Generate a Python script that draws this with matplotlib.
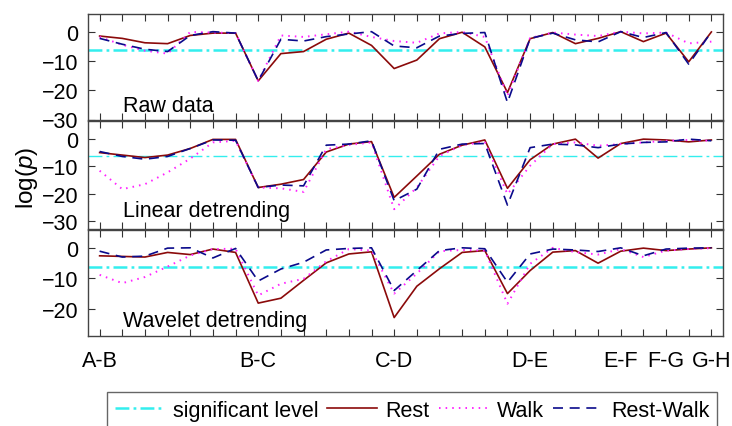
import numpy as np
import matplotlib
matplotlib.use('Agg')
import matplotlib.pyplot as plt

plt.rcParams['font.family'] = ['Liberation Sans', 'DejaVu Sans']
plt.rcParams['mathtext.fontset'] = 'custom'
plt.rcParams['mathtext.it'] = 'Liberation Sans:italic'
plt.rcParams['mathtext.rm'] = 'Liberation Sans'

# pair labels shown on x axis (index -> label), 28 comparisons in all
n_points = 28
tick_pos = [0, 7, 13, 19, 23, 25, 27]
tick_names = ['A-B', 'B-C', 'C-D', 'D-E', 'E-F', 'F-G', 'G-H']

sig_level = np.log(0.05 / 28)

panel_titles = ['Raw data', 'Linear detrending', 'Wavelet detrending']

# raw data
raw_rest = [-1.5, -2.3, -3.8, -4.1, -1.3, -0.5, -0.5, -16.8, -7.5, -6.8, -2.6, -0.5, -4.7, -12.6,
            -9.7, -2.4, -0.2, -5.2, -20.8, -2.4, -0.3, -4.1, -2.3, 0.0, -3.4, -0.5, -10.3, -0.1]
raw_walk = [-1.8, -4.5, -6.5, -7.5, -0.1, -0.3, -0.5, -16.8, -1.3, -1.8, -0.9, 0.0, -1.8, -3.2,
            -3.8, -0.6, -0.1, -1.8, -21.9, -2.2, -0.3, -1.0, -1.5, 0.0, -0.6, -0.3, -4.0, -3.4]
raw_rw = [-2.3, -4.3, -6.0, -6.8, -1.3, 0.0, -0.5, -16.8, -2.6, -3.2, -1.7, -0.8, 0.0, -4.9,
          -5.5, -1.5, -0.6, -0.3, -24.2, -2.3, -0.5, -2.8, -3.5, 0.0, -2.0, -0.3, -11.1, -0.1]

# linear detrending
lin_rest = [-5.0, -5.9, -6.8, -5.9, -3.5, -0.2, -0.2, -17.7, -16.5, -14.8, -4.8, -1.9, -1.0, -21.3,
            -13.5, -5.6, -2.3, -0.4, -18.0, -7.6, -1.9, -0.1, -7.0, -1.7, -0.1, -0.4, -1.1, -0.4]
lin_walk = [-11.6, -18.3, -16.5, -12.2, -7.2, -1.3, -0.7, -17.7, -18.0, -19.3, -3.8, -2.2, -1.3, -25.6,
            -17.7, -6.2, -2.3, -1.1, -20.1, -9.8, -1.9, -1.3, -2.5, -1.9, -1.3, -0.7, -0.4, -0.7]
lin_rw = [-4.6, -6.4, -7.4, -6.4, -3.5, -0.4, -0.5, -17.7, -16.8, -17.1, -2.3, -1.9, -0.7, -22.5,
          -18.3, -3.8, -1.9, -1.7, -24.1, -3.2, -1.9, -2.2, -3.2, -1.9, -1.3, -1.1, -0.1, -0.7]

# wavelet detrending
wav_rest = [-2.7, -2.9, -3.1, -1.6, -2.3, -0.5, -1.6, -18.1, -16.5, -10.7, -5.0, -2.1, -1.4, -22.8,
            -12.6, -6.9, -1.6, -1.0, -15.0, -7.5, -1.5, -1.0, -5.1, -1.2, -0.2, -1.0, -0.5, -0.1]
wav_walk = [-8.9, -11.6, -9.6, -6.2, -2.6, -0.5, -0.4, -15.6, -11.8, -10.2, -4.5, -0.5, -1.0, -15.0,
            -8.5, -1.2, -0.8, -1.0, -18.3, -5.3, -0.1, -1.5, -2.3, -0.5, -3.1, -1.0, -0.5, -0.2]
wav_rw = [-1.2, -3.1, -2.8, -0.2, -0.1, -3.4, -0.3, -10.9, -7.0, -4.8, -0.8, -0.3, -0.1, -14.0,
          -7.5, -1.0, -0.1, -0.4, -11.3, -2.1, -0.5, -0.8, -1.3, -0.1, -2.7, -0.5, -0.2, -0.1]

panels = [(raw_rest, raw_walk, raw_rw), (lin_rest, lin_walk, lin_rw), (wav_rest, wav_walk, wav_rw)]
ylims = [(-30, 6.2), (-32.8, 6.5), (-28.9, 5.7)]
yticks = [[0, -10, -20, -30], [0, -10, -20, -30], [0, -10, -20]]
title_y = [0.083, 0.123, 0.10]

W, H = 732, 427
fig = plt.figure(figsize=(W / 100, H / 100), dpi=100)

# panel boxes in pixels: (top, bottom)
boxes = [(14.5, 120.5), (122, 230), (231, 337.3)]
left_px, right_px = 88.3, 722.7
x = np.arange(n_points)
fs = 15.5

for k, (top, bot) in enumerate(boxes):
    ax = fig.add_axes([left_px / W, 1 - bot / H, (right_px - left_px) / W, (bot - top) / H])
    rest, walk, rw = panels[k]
    sig_lw = 1.0 if k == 1 else 1.8
    ax.axhline(sig_level, color='#33eeee', lw=sig_lw, dashes=(10 / sig_lw, 3 / sig_lw, 2 / sig_lw, 3 / sig_lw),
               label='significant level')
    ax.plot(x, rest, color='#8b0a0a', lw=1.2, label='Rest')
    ax.plot(x, walk, color='#ff22ff', lw=1.4, linestyle=(0, (0.8, 2.6)), label='Walk')
    ax.plot(x, rw, color='#0a0a8b', lw=1.2, dashes=(6, 4), label='Rest-Walk')

    ax.set_xlim(-0.5, 27.5)
    ax.set_ylim(*ylims[k])
    ax.set_yticks(yticks[k])
    ax.set_xticks(x)
    if k == 2:
        labels = [''] * n_points
        for p, name in zip(tick_pos, tick_names):
            labels[p] = name
        ax.set_xticklabels(labels)
    else:
        ax.set_xticklabels([])
    ax.tick_params(axis='x', direction='in', length=5, top=True, pad=10, labelsize=fs, color='#333333')
    ax.tick_params(axis='y', direction='in', length=5, right=True, pad=7, labelsize=fs, color='#333333')
    for s in ax.spines.values():
        s.set_color('#444444')
        s.set_linewidth(1.0)
    ax.text(0.055, title_y[k], panel_titles[k], transform=ax.transAxes,
            fontsize=fs, va='baseline', ha='left')
    if k == 0:
        handles, labs = ax.get_legend_handles_labels()

fig.text(26.7 / W, 1 - 178 / H, 'log($p$)', rotation=90, fontsize=17.5, ha='center', va='center')

fig.legend(handles, labs, loc='upper left', bbox_to_anchor=(107 / W, 1 - 393 / H), ncol=4,
           fontsize=fs, frameon=True, fancybox=False, edgecolor='#666666', framealpha=1,
           handlelength=2.3, handletextpad=0.4, columnspacing=0.42, borderpad=0.35,
           borderaxespad=0)

fig.savefig('out.png', dpi=100)
